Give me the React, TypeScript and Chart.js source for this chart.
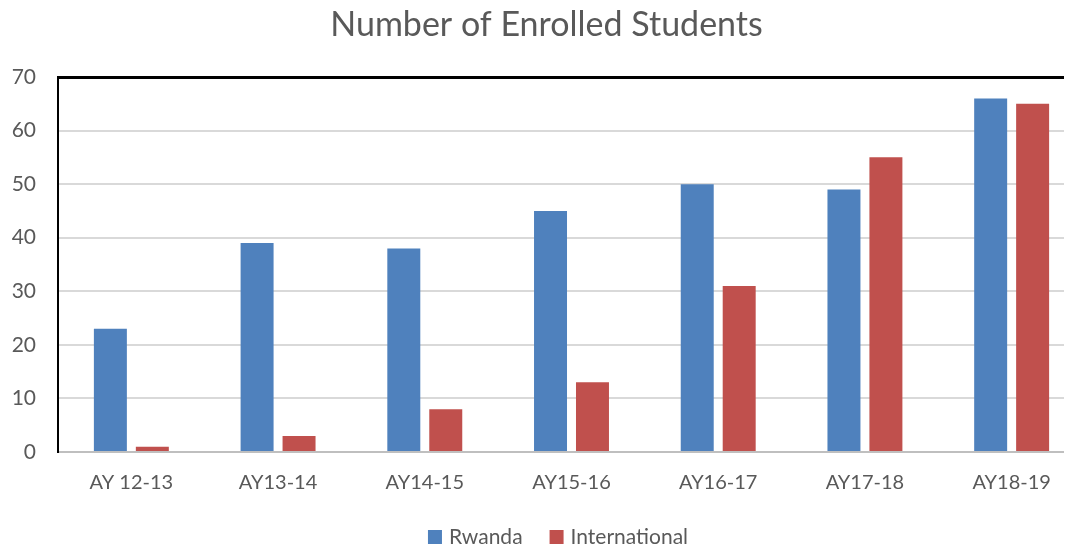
import React, { useEffect, useRef } from "react";
import { Chart, registerables } from "chart.js";

Chart.register(...registerables);

const categories = ["AY 12-13", "AY13-14", "AY14-15", "AY15-16", "AY16-17", "AY17-18", "AY18-19"];
const rwanda = [23, 39, 38, 45, 50, 49, 66];
const international = [1, 3, 8, 13, 31, 55, 65];
const yTicks = [0, 10, 20, 30, 40, 50, 60, 70];
const seriesNames = ["Rwanda", "International"];
const titleText = "Number of Enrolled Students";

const FONT = "Lato, 'Open Sans', sans-serif";
const TEXT = "#595959";

const legendPlugin = {
  id: "customLegend",
  afterDraw(chart: any) {
    const ctx = chart.ctx;
    const ds = chart.data.datasets;
    ctx.save();
    ctx.font = `21px ${FONT}`;
    ctx.textBaseline = "middle";
    const box = 14;
    const gapBoxText = 7;
    const gapItems = 27;
    const widths = ds.map((d: any) => box + gapBoxText + ctx.measureText(d.label).width);
    const total = widths.reduce((a: number, b: number) => a + b, 0) + gapItems * (ds.length - 1);
    let x = 550 - total / 2;
    const y = 529;
    ds.forEach((d: any, i: number) => {
      ctx.fillStyle = d.backgroundColor;
      ctx.fillRect(x, y - box / 2, box, box);
      ctx.fillStyle = TEXT;
      ctx.textAlign = "left";
      ctx.fillText(d.label, x + box + gapBoxText, y);
      x += widths[i] + gapItems;
    });
    ctx.restore();
  },
};

export default function App() {
  const ref = useRef<HTMLCanvasElement | null>(null);
  useEffect(() => {
    if (!ref.current) return;
    const chart = new Chart(ref.current, {
      type: "bar",
      data: {
        labels: categories,
        datasets: [
          { label: seriesNames[0], data: rwanda, backgroundColor: "#4f81bd" },
          { label: seriesNames[1], data: international, backgroundColor: "#c0504d" },
        ],
      },
      options: {
        responsive: false,
        animation: false,
        devicePixelRatio: 1,
        layout: { padding: { top: 0, right: 13, bottom: 54, left: 0 } },
        datasets: { bar: { categoryPercentage: 0.572, barPercentage: 0.786 } },
        plugins: {
          legend: { display: false },
          tooltip: { enabled: false },
          title: {
            display: true,
            text: titleText,
            color: TEXT,
            font: { family: FONT, size: 34, weight: "normal", lineHeight: 1 },
            padding: { top: 0, bottom: 35 },
          },
        },
        scales: {
          x: {
            grid: { display: false, drawTicks: false },
            border: { display: true, color: "#bfbfbf", width: 2 },
            ticks: { color: TEXT, font: { family: FONT, size: 20 }, padding: 19 },
            afterFit: (s: any) => { s.height = 41; },
          },
          y: {
            min: 0,
            max: 70,
            afterBuildTicks: (s: any) => { s.ticks = yTicks.map((v) => ({ value: v })); },
            grid: {
              drawTicks: false,
              color: (c: any) => (c.tick && c.tick.value === 70 ? "#000000" : c.tick && c.tick.value === 0 ? "#bfbfbf" : "#d9d9d9"),
              lineWidth: (c: any) => (c.tick && c.tick.value === 70 ? 3 : 2),
            },
            border: { display: true, color: "#000000", width: 2 },
            ticks: { color: TEXT, font: { family: FONT, size: 21 }, padding: 22 },
            afterFit: (s: any) => { s.width = 50; },
          },
        },
      },
      plugins: [legendPlugin],
    });
    return () => chart.destroy();
  }, []);
  return (
    <div style={{ width: 1064, height: 539, overflow: "hidden" }}>
      <canvas ref={ref} width={1090} height={539} style={{ display: "block" }} />
    </div>
  );
}
